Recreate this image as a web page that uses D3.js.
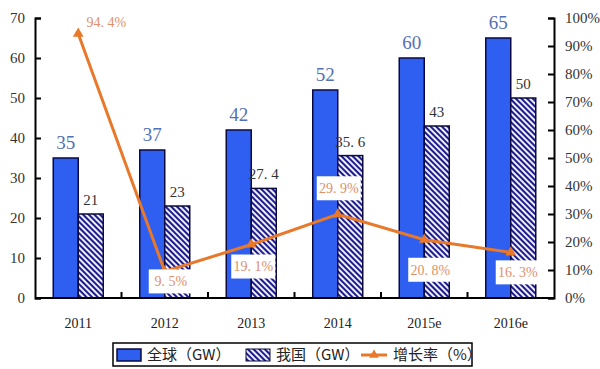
<!DOCTYPE html>
<html>
<head>
<meta charset="utf-8">
<script src="https://cdn.jsdelivr.net/npm/d3@7"></script>
<style>
body{margin:0;background:#fff;}
svg{display:block;font-family:"Liberation Serif","DejaVu Serif",serif;}
</style>
</head>
<body>
<div id="chart"></div>
<script>
// data
const years = ['2011','2012','2013','2014','2015e','2016e'];
const globalGW = [35,37,42,52,60,65];
const chinaGW = [21,23,27.4,35.6,43,50];
const growth = [94.4,9.5,19.1,29.9,20.8,16.3];
const leftTicks = [0,10,20,30,40,50,60,70];
const rightTicks = [0,10,20,30,40,50,60,70,80,90,100];

// label nudges for the growth labels (dx, dy from the point)
const growthLabelOffset = [[28,-12],[6,10],[2,22],[1,-26],[6,30],[7,20]];

const width = 600, height = 369;
const margin = {top:18,bottom:71,left:35,right:46};

const svg = d3.select('#chart').append('svg')
  .attr('width',width).attr('height',height);

// diagonal hatch, stripes running top-left to bottom-right
const defs = svg.append('defs');
const pat = defs.append('pattern')
  .attr('id','hatch').attr('patternUnits','userSpaceOnUse')
  .attr('width',4).attr('height',4)
  .attr('patternTransform','rotate(45)');
pat.append('rect').attr('width',4).attr('height',4).attr('fill','#eeeeff');
pat.append('rect').attr('width',4).attr('height',2).attr('fill','#1c1c8c');

const x = d3.scaleBand().domain(years)
  .range([margin.left,width-margin.right]);
const xSub = d3.scaleBand().domain(['global','china'])
  .range([0,x.bandwidth()]).paddingOuter(0.73);
const yL = d3.scaleLinear().domain([0,70]).range([height-margin.bottom,margin.top]);
const yR = d3.scaleLinear().domain([0,100]).range([height-margin.bottom,margin.top]);

// bars
const g = svg.append('g');
g.selectAll('rect.glob').data(years).join('rect')
  .attr('class','glob')
  .attr('x',d=>x(d)+xSub('global'))
  .attr('y',(d,i)=>yL(globalGW[i]))
  .attr('width',xSub.bandwidth())
  .attr('height',(d,i)=>yL(0)-yL(globalGW[i]))
  .attr('fill','#2f5ff0').attr('stroke','#0a0a40').attr('stroke-width',1.5);
g.selectAll('rect.cn').data(years).join('rect')
  .attr('class','cn')
  .attr('x',d=>x(d)+xSub('china'))
  .attr('y',(d,i)=>yL(chinaGW[i]))
  .attr('width',xSub.bandwidth())
  .attr('height',(d,i)=>yL(0)-yL(chinaGW[i]))
  .attr('fill','url(#hatch)').attr('stroke','#0a0a40').attr('stroke-width',1.5);

// bar value labels
g.selectAll('text.glob').data(years).join('text')
  .attr('x',d=>x(d)+xSub('global')+xSub.bandwidth()/2)
  .attr('y',(d,i)=>yL(globalGW[i])-9)
  .attr('text-anchor','middle').attr('font-size',19).attr('fill','#5470b4')
  .text((d,i)=>globalGW[i]);
g.selectAll('text.cn').data(years).join('text')
  .attr('x',d=>x(d)+xSub('china')+xSub.bandwidth()/2)
  .attr('y',(d,i)=>yL(chinaGW[i])-9)
  .attr('text-anchor','middle').attr('font-size',15).attr('fill','#333')
  .text((d,i)=>String(chinaGW[i]).replace('.','. '));

// axes
const axL = svg.append('g').attr('transform',`translate(${margin.left},0)`)
  .call(d3.axisRight(yL).tickValues(leftTicks).tickSize(6));
axL.selectAll('text').attr('x',-10).attr('text-anchor','end');
const axR = svg.append('g').attr('transform',`translate(${width-margin.right},0)`)
  .call(d3.axisLeft(yR).tickValues(rightTicks).tickSize(6).tickFormat(d=>d+'%'));
axR.selectAll('text').attr('x',11).attr('text-anchor','start');
[axL,axR].forEach(a=>{
  a.select('.domain').attr('stroke','#000').attr('stroke-width',2);
  a.selectAll('.tick line').attr('stroke','#000').attr('stroke-width',2);
  a.selectAll('text').attr('font-size',15).attr('fill','#333')
    .attr('font-family','"Liberation Serif",serif');
});

// bottom axis with ticks between groups
const bottom = svg.append('g');
bottom.append('line')
  .attr('x1',margin.left).attr('x2',width-margin.right)
  .attr('y1',yL(0)).attr('y2',yL(0))
  .attr('stroke','#000').attr('stroke-width',2);
bottom.selectAll('line.sep').data(years.slice(1)).join('line')
  .attr('class','sep')
  .attr('x1',d=>x(d)).attr('x2',d=>x(d))
  .attr('y1',yL(0)).attr('y2',yL(0)-6)
  .attr('stroke','#000').attr('stroke-width',2);
bottom.selectAll('text').data(years).join('text')
  .attr('x',d=>x(d)+x.bandwidth()/2)
  .attr('y',yL(0)+30)
  .attr('text-anchor','middle').attr('font-size',14).attr('fill','#222')
  .text(d=>d);

// growth line
const cx = d=>x(d)+x.bandwidth()/2;
const line = d3.line().x((d,i)=>cx(years[i])).y(d=>yR(d));
svg.append('path').datum(growth)
  .attr('d',line).attr('fill','none')
  .attr('stroke','#e8782a').attr('stroke-width',3);
svg.selectAll('path.mark').data(growth).join('path')
  .attr('class','mark')
  .attr('transform',(d,i)=>`translate(${cx(years[i])},${yR(d)})`)
  .attr('d',d3.symbol(d3.symbolTriangle,50))
  .attr('fill','#e8782a');

// growth labels with white boxes
const gl = svg.selectAll('g.glab').data(growth).join('g')
  .attr('class','glab')
  .attr('transform',(d,i)=>`translate(${cx(years[i])+growthLabelOffset[i][0]},${yR(d)+growthLabelOffset[i][1]})`);
gl.append('rect').attr('x',-22).attr('y',-12).attr('width',44).attr('height',24)
  .attr('fill','#fff');
gl.append('text').attr('text-anchor','middle').attr('dy','0.35em')
  .attr('font-size',14).attr('fill','#e0906a')
  .text(d=>String(d).replace('.','. ')+'%');

// legend
const lg = svg.append('g').attr('transform','translate(113,343)');
lg.append('rect').attr('width',359).attr('height',23)
  .attr('fill','#fff').attr('stroke','#000').attr('stroke-width',1.5);
lg.append('rect').attr('x',4).attr('y',6).attr('width',24).attr('height',12)
  .attr('fill','#2f5ff0').attr('stroke','#0a0a40').attr('stroke-width',1.5);
lg.append('text').attr('x',34).attr('y',17).attr('font-size',15)
  .attr('font-family','"Noto Sans CJK SC",sans-serif').attr('fill','#222')
  .text('全球（GW）');
lg.append('rect').attr('x',133).attr('y',6).attr('width',24).attr('height',12)
  .attr('fill','url(#hatch)').attr('stroke','#0a0a40').attr('stroke-width',1);
lg.append('text').attr('x',163).attr('y',17).attr('font-size',15)
  .attr('font-family','"Noto Sans CJK SC",sans-serif').attr('fill','#222')
  .text('我国（GW）');
lg.append('line').attr('x1',248).attr('x2',274).attr('y1',12).attr('y2',12)
  .attr('stroke','#e8782a').attr('stroke-width',3);
lg.append('path').attr('transform','translate(261,12)')
  .attr('d',d3.symbol(d3.symbolTriangle,40)).attr('fill','#e8782a');
lg.append('text').attr('x',280).attr('y',17).attr('font-size',15)
  .attr('font-family','"Noto Sans CJK SC",sans-serif').attr('fill','#222')
  .text('增长率（%）');
</script>
</body>
</html>
